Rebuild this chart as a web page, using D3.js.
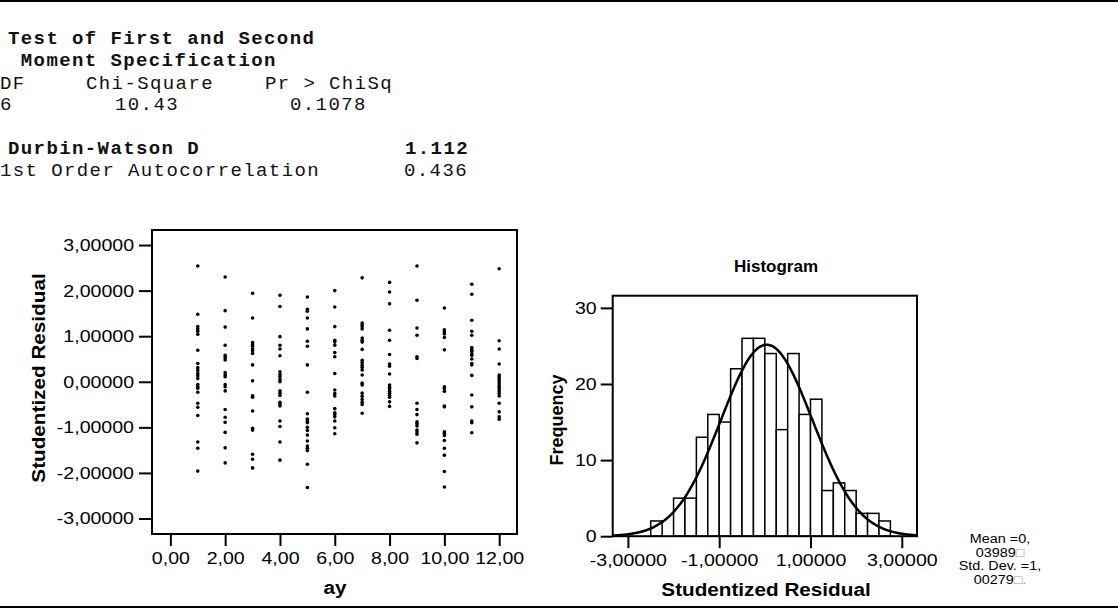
<!DOCTYPE html>
<html>
<head>
<meta charset="utf-8">
<script src="https://cdn.jsdelivr.net/npm/d3@7"></script>
<style>
  html, body { margin: 0; padding: 0; background: #fff; }
  svg { display: block; }
  .mono { font-family: "Courier New", "Liberation Mono", monospace; font-size: 19px; letter-spacing: 1.4px; white-space: pre; fill: #111; }
  .sans { font-family: Arial, "Liberation Sans", sans-serif; }
</style>
</head>
<body>
<svg id="chart" width="1118" height="614"></svg>
<script>
// ---- Regression diagnostics (text block) ----
const momentTest = { df: "6", chiSquare: "10.43", prob: "0.1078" };
const durbinWatson = "1.112";
const autocorrelation = "0.436";

// ---- Studentized residuals by ay (1..12) ----
const ayValues = [1, 2, 3, 4, 5, 6, 7, 8, 9, 10, 11, 12];
const residualsAy1  = [2.54, 1.48, 1.21, 1.16, 1.11, 1.04, 0.69, 0.40, 0.31, 0.25, 0.18, 0.13, 0.07, -0.06, -0.11, -0.14, -0.23, -0.47, -0.56, -0.74, -1.32, -1.46, -1.96];
const residualsAy2  = [2.30, 1.56, 1.20, 0.80, 0.58, 0.53, 0.48, 0.20, 0.15, 0.11, -0.06, -0.11, -0.20, -0.61, -0.78, -0.89, -1.11, -1.45, -1.78];
const residualsAy3  = [1.94, 1.40, 0.86, 0.82, 0.78, 0.72, 0.68, 0.62, 0.37, 0.02, -0.31, -0.34, -0.64, -1.02, -1.06, -1.59, -1.70, -1.89];
const residualsAy4  = [1.90, 1.65, 0.99, 0.80, 0.72, 0.57, 0.22, 0.16, 0.11, 0.05, 0.00, -0.20, -0.25, -0.30, -0.45, -0.49, -0.53, -0.86, -0.98, -1.32, -1.72];
const residualsAy5  = [1.86, 1.59, 1.55, 1.40, 1.16, 0.89, 0.78, 0.37, -0.23, -0.70, -0.82, -0.87, -0.90, -1.00, -1.07, -1.17, -1.30, -1.41, -1.46, -1.51, -1.81, -2.32];
const residualsAy6  = [2.00, 1.64, 1.21, 0.91, 0.87, 0.80, 0.64, 0.55, 0.18, -0.18, -0.26, -0.31, -0.59, -0.68, -0.72, -0.77, -0.86, -1.01, -1.14];
const residualsAy7  = [2.28, 1.29, 1.25, 1.21, 1.16, 0.96, 0.91, 0.87, 0.71, 0.47, 0.42, 0.36, 0.32, 0.26, 0.15, -0.03, -0.07, -0.25, -0.32, -0.39, -0.45, -0.50, -0.69];
const residualsAy8  = [2.18, 1.97, 1.71, 1.13, 0.91, 0.60, 0.39, 0.34, 0.17, -0.07, -0.12, -0.16, -0.21, -0.25, -0.30, -0.34, -0.44, -0.54];
const residualsAy9  = [2.54, 1.79, 1.18, 1.02, 0.55, 0.51, -0.47, -0.61, -0.72, -0.88, -0.92, -0.97, -1.06, -1.10, -1.15, -1.34];
const residualsAy10 = [1.62, 1.14, 1.10, 1.05, 0.97, 0.70, -0.11, -0.15, -0.21, -0.53, -0.55, -1.10, -1.13, -1.18, -1.29, -1.46, -1.61, -1.97, -2.31];
const residualsAy11 = [2.14, 1.92, 1.35, 1.11, 1.02, 0.75, 0.71, 0.67, 0.62, 0.58, 0.50, 0.40, 0.37, 0.14, -0.29, -0.55, -0.86, -0.90, -1.12];
const residualsAy12 = [2.48, 0.90, 0.72, 0.39, 0.15, 0.11, 0.07, 0.02, -0.02, -0.07, -0.11, -0.15, -0.20, -0.25, -0.31, -0.47, -0.66, -0.77, -0.82];
const residualGroups = [residualsAy1, residualsAy2, residualsAy3, residualsAy4, residualsAy5, residualsAy6,
                        residualsAy7, residualsAy8, residualsAy9, residualsAy10, residualsAy11, residualsAy12];

const scatterXTicks = [0, 2, 4, 6, 8, 10, 12];
const residualTicks = [-3, -2, -1, 0, 1, 2, 3];

// ---- Histogram of studentized residuals ----
const binStart = -2.5;
const binWidth = 0.25;
const binCounts = [2, 0, 5, 5, 13, 16, 15, 22, 26, 26, 24, 14, 24, 16, 18, 6, 7, 6, 3, 3, 2];
const histXTicks = [-3, -1, 1, 3];
const histYTicks = [0, 10, 20, 30];
const residualMean = 0.03989;
const residualSD = 1.00279;
// legend lines: [text, trailing missing-glyph box]
const statsLines = [["Mean =0,", ""], ["03989", "\u25A1"], ["Std. Dev. =1,", ""], ["00279", "\u25A1."]];

// ---- Drawing ----
const svg = d3.select("#chart");
svg.append("rect").attr("width", 1118).attr("height", 614).attr("fill", "#fff");

// frame rules
svg.append("line").attr("x1", 0).attr("x2", 1118).attr("y1", 1).attr("y2", 1)
  .attr("stroke", "#000").attr("stroke-width", 2);
svg.append("line").attr("x1", 0).attr("x2", 1118).attr("y1", 607).attr("y2", 607)
  .attr("stroke", "#000").attr("stroke-width", 2);

// text output block
const txt = svg.append("g").attr("class", "mono");
function mono(x, y, s, bold) {
  txt.append("text").attr("x", x).attr("y", y).attr("font-weight", bold ? "bold" : "normal")
    .attr("xml:space", "preserve").text(s);
}
mono(8, 44, "Test of First and Second", true);
mono(8, 66, " Moment Specification", true);
mono(0, 89, "DF", false);
mono(86, 89, "Chi-Square", false);
mono(265, 89, "Pr > ChiSq", false);
mono(0, 110, momentTest.df, false);
mono(115, 110, momentTest.chiSquare, false);
mono(290, 110, momentTest.prob, false);
mono(8, 154, "Durbin-Watson D", true);
mono(405, 154, durbinWatson, true);
mono(0, 176, "1st Order Autocorrelation", false);
mono(404, 176, autocorrelation, false);

const commaLocale = d3.formatLocale({ decimal: ",", thousands: ".", grouping: [3], currency: ["", ""], minus: "-" });
const fmt2 = commaLocale.format(".2f");
const fmt5 = commaLocale.format(".5f");

const tickFont = 17;
const stretch = 1.15;   // the chart fonts run wide
function widen(sel, k) {
  sel.each(function () {
    const w = this.getComputedTextLength();
    d3.select(this).attr("textLength", w * k).attr("lengthAdjust", "spacingAndGlyphs");
  });
}

// scatter plot
const sx = d3.scaleLinear().domain([-0.67, 12.65]).range([152, 517]);
const sy = d3.scaleLinear().domain([-3.34, 3.33]).range([534, 230]);

const sc = svg.append("g").attr("class", "sans");
sc.append("g").attr("transform", "translate(0,534)")
  .call(d3.axisBottom(sx).tickValues(scatterXTicks).tickFormat(fmt2).tickSize(12).tickPadding(6))
  .call(g => g.select(".domain").remove());
sc.append("g").attr("transform", "translate(152,0)")
  .call(d3.axisLeft(sy).tickValues(residualTicks).tickFormat(fmt5).tickSize(13).tickPadding(5))
  .call(g => g.select(".domain").remove());
sc.selectAll(".tick line").attr("stroke", "#000").attr("stroke-width", 2);
sc.selectAll(".tick text").attr("font-size", tickFont).attr("font-family", "Arial, 'Liberation Sans', sans-serif").attr("fill", "#000");

sc.append("rect").attr("x", sx.range()[0]).attr("y", sy.range()[1])
  .attr("width", sx.range()[1] - sx.range()[0]).attr("height", sy.range()[0] - sy.range()[1])
  .attr("fill", "none").attr("stroke", "#000").attr("stroke-width", 2);

const points = residualGroups.flatMap((vals, i) => vals.map(v => ({ x: ayValues[i], y: v })));
sc.append("g").selectAll("circle").data(points).join("circle")
  .attr("cx", d => sx(d.x)).attr("cy", d => sy(d.y)).attr("r", 1.8).attr("fill", "#000");

sc.append("text").attr("class", "title").attr("transform", "translate(45,378) rotate(-90)").attr("text-anchor", "middle")
  .attr("font-size", 18).attr("font-weight", "bold").text("Studentized Residual");
sc.append("text").attr("class", "title").attr("x", 335).attr("y", 594).attr("text-anchor", "middle")
  .attr("font-size", 18).attr("font-weight", "bold").text("ay");

// histogram
const hx = d3.scaleLinear().domain([-3.333, 3.333]).range([612.7, 917]);
const hy = d3.scaleLinear().domain([0, 31.6]).range([536.2, 295.7]);
const hg = svg.append("g").attr("class", "sans");

const bins = binCounts.map((c, i) => ({ x0: binStart + i * binWidth, x1: binStart + (i + 1) * binWidth, n: c }));
hg.append("g").selectAll("rect").data(bins.filter(b => b.n > 0)).join("rect")
  .attr("x", d => hx(d.x0)).attr("width", d => hx(d.x1) - hx(d.x0))
  .attr("y", d => hy(d.n)).attr("height", d => hy(0) - hy(d.n))
  .attr("fill", "#fff").attr("stroke", "#000").attr("stroke-width", 1.5);

const total = d3.sum(binCounts);
const curveX = d3.range(0, 301).map(i => -3.333 + i * (6.666 / 300));
const normalCurve = d3.line()
  .x(v => hx(v))
  .y(v => hy(total * binWidth / (residualSD * Math.sqrt(2 * Math.PI)) *
              Math.exp(-0.5 * ((v - residualMean) / residualSD) ** 2)))
  .curve(d3.curveBasis);
hg.append("path").datum(curveX).attr("d", normalCurve)
  .attr("fill", "none").attr("stroke", "#000").attr("stroke-width", 2.5);

hg.append("g").attr("transform", "translate(0,536.2)")
  .call(d3.axisBottom(hx).tickValues(histXTicks).tickFormat(fmt5).tickSize(12).tickPadding(6))
  .call(g => g.select(".domain").remove());
hg.append("g").attr("transform", "translate(612.7,0)")
  .call(d3.axisLeft(hy).tickValues(histYTicks).tickSize(12).tickPadding(4))
  .call(g => g.select(".domain").remove());
hg.selectAll(".tick line").attr("stroke", "#000").attr("stroke-width", 2);
hg.selectAll(".tick text").attr("font-size", tickFont).attr("font-family", "Arial, 'Liberation Sans', sans-serif").attr("fill", "#000");

hg.append("rect").attr("x", hx.range()[0]).attr("y", hy.range()[1])
  .attr("width", hx.range()[1] - hx.range()[0]).attr("height", hy.range()[0] - hy.range()[1])
  .attr("fill", "none").attr("stroke", "#000").attr("stroke-width", 2);

hg.append("text").attr("x", 776).attr("y", 272).attr("text-anchor", "middle")
  .attr("font-size", 17).attr("font-weight", "bold").text("Histogram");
hg.append("text").attr("transform", "translate(563,420) rotate(-90)").attr("text-anchor", "middle")
  .attr("font-size", 18).attr("font-weight", "bold").text("Frequency");
hg.append("text").attr("class", "title").attr("x", 766).attr("y", 596).attr("text-anchor", "middle")
  .attr("font-size", 18).attr("font-weight", "bold").text("Studentized Residual");

const legend = hg.append("g").selectAll("text").data(statsLines).join("text")
  .attr("class", "legend")
  .attr("x", 1000).attr("y", (d, i) => 543 + i * 13.5).attr("text-anchor", "middle")
  .attr("font-size", 12.5);
legend.append("tspan").text(d => d[0]);
legend.append("tspan").attr("fill", "#9a9a9a").text(d => d[1]);

// widen the sans texts to the chart's wide letterforms
widen(svg.selectAll(".tick text"), stretch);
widen(svg.selectAll("text.title"), stretch);
widen(svg.selectAll("text.legend"), 1.15);
</script>
</body>
</html>
